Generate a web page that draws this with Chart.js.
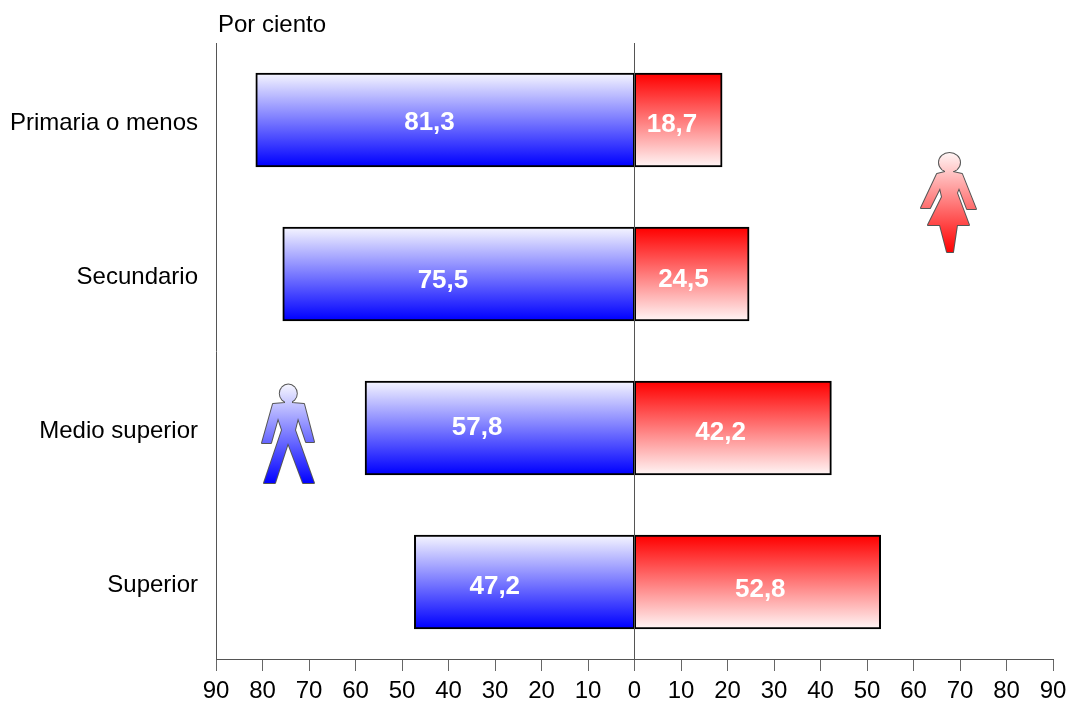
<!DOCTYPE html>
<html>
<head>
<meta charset="utf-8">
<script src="https://cdn.jsdelivr.net/npm/chart.js@4"></script>
<style>
  html, body { margin: 0; padding: 0; background: #fff; }
  #wrap { width: 1069px; height: 701px; }
</style>
</head>
<body>
<div id="wrap"><canvas id="chart"></canvas></div>
<script>
const categories = ["Primaria o menos", "Secundario", "Medio superior", "Superior"];
const hombres = [81.3, 75.5, 57.8, 47.2];
const mujeres = [18.7, 24.5, 42.2, 52.8];
const axisTicks = [-90, -80, -70, -60, -50, -40, -30, -20, -10, 0, 10, 20, 30, 40, 50, 60, 70, 80, 90];

// los numeros no van centrados en la barra: offset en px respecto al centro
const hombresLabelOffset = [[-16, 3], [-16, 7], [-23, 0], [-30, 5]];
const mujeresLabelOffset = [[-6, 5], [-8, 6], [-12, 5], [3, 8]];

const FONT = '"Liberation Sans", Arial, sans-serif';

// gradiente vertical de cada barra
function barGradient(context, top, bottom) {
  const chart = context.chart;
  const yScale = chart.scales.y;
  if (!yScale || !chart.chartArea) return bottom;
  const center = yScale.getPixelForValue(context.dataIndex);
  const band = yScale.getPixelForValue(1) - yScale.getPixelForValue(0);
  if (!isFinite(center) || !isFinite(band)) return bottom;
  const half = band * 0.3;
  const g = chart.ctx.createLinearGradient(0, center - half, 0, center + half);
  g.addColorStop(0, top);
  g.addColorStop(1, bottom);
  return g;
}

// silueta a partir de puntos (coordenadas de pagina)
function drawFigure(ctx, points, head, top, bottom, yFrom, yTo) {
  const g = ctx.createLinearGradient(0, yFrom, 0, yTo);
  g.addColorStop(0, top);
  g.addColorStop(1, bottom);
  const body = new Path2D();
  points.forEach(function (p, i) {
    if (i === 0) body.moveTo(p[0], p[1]);
    else body.lineTo(p[0], p[1]);
  });
  body.closePath();
  const headPath = new Path2D();
  headPath.ellipse(head[0], head[1], head[2], head[3], 0, 0, Math.PI * 2);
  ctx.save();
  ctx.strokeStyle = "#555";
  ctx.lineWidth = 2;
  ctx.lineJoin = "round";
  ctx.stroke(body);
  ctx.stroke(headPath);
  // relleno encima del trazo para que cuello y cabeza queden unidos
  ctx.fillStyle = g;
  ctx.fill(body);
  ctx.fill(headPath);
  ctx.restore();
}

const womanPoints = [[945, 165], [945, 172], [937, 174], [921, 208], [930, 208], [940, 188], [942, 197], [928, 225], [940, 225], [947, 252], [953, 252], [957, 225], [969, 225], [957, 193], [959, 188], [967, 209], [976, 209], [962, 174], [953, 172], [953, 165]];
const womanHead = [949.5, 162.5, 10.5, 9.5];
const manPoints = [[285, 396], [285, 403], [273, 404], [262, 443], [271, 443], [278, 418], [282, 430], [264, 483], [275, 483], [288, 443], [303, 483], [314, 483], [295, 430], [298, 418], [306, 442], [314, 442], [304, 404], [292, 403], [292, 396]];
const manHead = [288.3, 393.5, 8.5, 9];

const extrasPlugin = {
  id: "extras",
  afterDatasetsDraw: function (chart) {
    const ctx = chart.ctx;
    const x = chart.scales.x;
    const y = chart.scales.y;

    // valores dentro de las barras
    ctx.save();
    ctx.fillStyle = "#fff";
    ctx.font = "bold 26px " + FONT;
    ctx.textAlign = "center";
    ctx.textBaseline = "middle";
    categories.forEach(function (c, i) {
      const cy = y.getPixelForValue(i);
      const hx = x.getPixelForValue(-hombres[i] / 2);
      const mx = x.getPixelForValue(mujeres[i] / 2);
      ctx.fillText(hombres[i].toFixed(1).replace(".", ","), hx + hombresLabelOffset[i][0], cy + hombresLabelOffset[i][1]);
      ctx.fillText(mujeres[i].toFixed(1).replace(".", ","), mx + mujeresLabelOffset[i][0], cy + mujeresLabelOffset[i][1]);
    });

    // titulo del eje
    ctx.fillStyle = "#000";
    ctx.font = "24px " + FONT;
    ctx.textAlign = "left";
    ctx.textBaseline = "alphabetic";
    ctx.fillText("Por ciento", 218, 32);
    ctx.restore();

    drawFigure(ctx, womanPoints, womanHead, "#fff4f4", "#ff0000", 153, 253);
    drawFigure(ctx, manPoints, manHead, "#f4f4ff", "#0000ff", 385, 484);
  },
};

var pobrezaConfig = {
  type: "bar",
  data: {
    labels: categories,
    datasets: [
      {
        label: "Hombres",
        data: hombres.map(function (v) { return -v; }),
        backgroundColor: function (context) {
          return barGradient(context, "#f4f4ff", "#0000ff");
        },
        borderColor: "#000",
        borderWidth: 2,
        borderSkipped: false,
        inflateAmount: 1,
        barPercentage: 0.6,
        categoryPercentage: 1,
      },
      {
        label: "Mujeres",
        data: mujeres,
        backgroundColor: function (context) {
          return barGradient(context, "#ff0000", "#fff4f4");
        },
        borderColor: "#000",
        borderWidth: 2,
        borderSkipped: false,
        inflateAmount: 1,
        barPercentage: 0.6,
        categoryPercentage: 1,
      },
    ],
  },
  options: {
    indexAxis: "y",
    responsive: true,
    maintainAspectRatio: false,
    animation: false,
    layout: {
      padding: { top: 43, right: 16, bottom: 0, left: 0 },
    },
    plugins: {
      legend: { display: false },
      tooltip: { enabled: false },
    },
    scales: {
      x: {
        stacked: true,
        min: -90,
        max: 90,
        afterBuildTicks: function (axis) {
          axis.ticks = axisTicks.map(function (v) { return { value: v }; });
        },
        afterFit: function (axis) {
          axis.height = 42;
          axis.paddingLeft = 0;
          axis.paddingRight = 0;
        },
        ticks: {
          autoSkip: false,
          maxRotation: 0,
          padding: 6,
          color: "#000",
          font: { family: FONT, size: 24 },
          callback: function (value) {
            return Math.abs(value);
          },
        },
        grid: {
          z: 1,
          tickLength: 12,
          tickColor: "#666",
          color: function (context) {
            return context.tick && context.tick.value === 0 ? "#555" : "transparent";
          },
        },
        // con z 1 el borde se pinta despues de la rejilla, si no sale arriba del todo
        border: { color: "#555", z: 1 },
      },
      y: {
        stacked: true,
        afterFit: function (axis) {
          axis.width = 216;
        },
        ticks: {
          padding: 18,
          labelOffset: 3,
          color: "#000",
          font: { family: FONT, size: 24 },
        },
        grid: { display: false, drawTicks: false },
        border: { color: "#555" },
      },
    },
  },
};

new Chart(document.getElementById("chart"), Object.assign(pobrezaConfig, { plugins: [extrasPlugin] }));
</script>
</body>
</html>
